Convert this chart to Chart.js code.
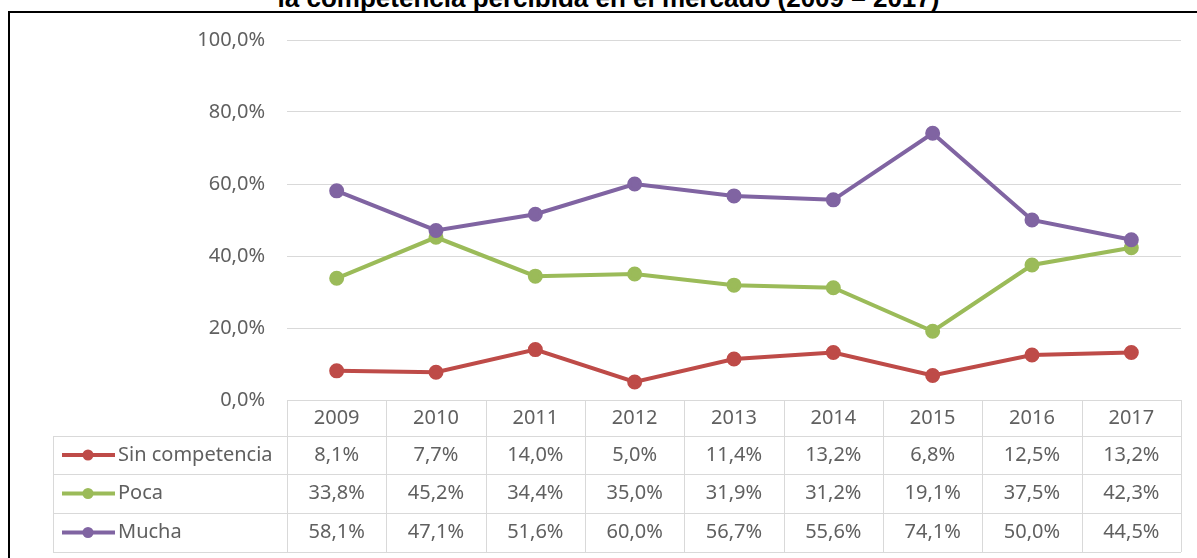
<!DOCTYPE html>
<html lang="es">
<head>
<meta charset="UTF-8">
<title>Competencia percibida</title>
<script src="https://cdn.jsdelivr.net/npm/chart.js@4.4.1/dist/chart.umd.min.js"></script>
<style>
  html, body { margin: 0; padding: 0; background: #fff; overflow: hidden; }
  #frame { position: absolute; left: 8px; top: 11px; width: 1300px; height: 700px;
           border-top: 2px solid #000; border-left: 2px solid #000; }
  #title { position: absolute; left: 0; top: -15px; width: 1217px; text-align: center;
           font: bold 26px "Liberation Sans", Arial, sans-serif; line-height: 26px; color: #000; }
  #wrap { position: absolute; left: 0; top: 0; width: 1197px; height: 558px; }
</style>
</head>
<body>
<div id="frame"></div>
<div id="title">la competencia percibida en el mercado (2009 – 2017)</div>
<div id="wrap"><canvas id="chart" width="1197" height="558"></canvas></div>
<script>
const years = ['2009', '2010', '2011', '2012', '2013', '2014', '2015', '2016', '2017'];
const sinCompetencia = [8.1, 7.7, 14.0, 5.0, 11.4, 13.2, 6.8, 12.5, 13.2];
const poca = [33.8, 45.2, 34.4, 35.0, 31.9, 31.2, 19.1, 37.5, 42.3];
const mucha = [58.1, 47.1, 51.6, 60.0, 56.7, 55.6, 74.1, 50.0, 44.5];
const seriesNames = ['Sin competencia', 'Poca', 'Mucha'];
const seriesColors = ['#be4b48', '#9bbb59', '#8064a2'];

const fontFamily = '"Noto Sans", "Open Sans", sans-serif';
const textColor = '#606060';
const gridColor = '#d9d9d9';

function pct(v) {
  return v.toFixed(1).replace('.', ',') + '%';
}

// data table under the plot, using the x scale for the columns
const dataTable = {
  id: 'dataTable',
  afterDraw(chart) {
    const ctx = chart.ctx;
    const x = chart.scales.x;
    const area = chart.chartArea;
    const n = years.length;
    const colW = (area.right - area.left) / n;
    const legendLeft = 53;
    const rows = [area.bottom, 436, 474, 513, 552];

    ctx.save();
    ctx.strokeStyle = gridColor;
    ctx.lineWidth = 1;
    ctx.beginPath();
    // horizontal lines
    ctx.moveTo(area.left, rows[0] + 0.5); ctx.lineTo(area.right, rows[0] + 0.5);
    for (let r = 1; r < rows.length; r++) {
      ctx.moveTo(legendLeft, rows[r] + 0.5); ctx.lineTo(area.right, rows[r] + 0.5);
    }
    // vertical lines
    for (let i = 0; i <= n; i++) {
      const px = Math.round(area.left + i * colW) + 0.5;
      ctx.moveTo(px, rows[0]); ctx.lineTo(px, rows[4]);
    }
    ctx.moveTo(legendLeft + 0.5, rows[1]); ctx.lineTo(legendLeft + 0.5, rows[4]);
    ctx.stroke();

    ctx.fillStyle = textColor;
    ctx.font = '20px ' + fontFamily;
    ctx.textAlign = 'center';
    ctx.textBaseline = 'middle';
    years.forEach((y, i) => {
      ctx.fillText(y, x.getPixelForValue(i), (rows[0] + rows[1]) / 2);
    });

    chart.data.datasets.forEach((ds, r) => {
      const cy = (rows[r + 1] + rows[r + 2]) / 2;
      ds.data.forEach((v, i) => {
        ctx.fillStyle = textColor;
        ctx.textAlign = 'center';
        ctx.fillText(pct(v), x.getPixelForValue(i), cy);
      });
      // legend key
      ctx.strokeStyle = ds.borderColor;
      ctx.lineWidth = 4;
      ctx.beginPath();
      ctx.moveTo(62, cy); ctx.lineTo(115, cy);
      ctx.stroke();
      ctx.fillStyle = ds.borderColor;
      ctx.beginPath();
      ctx.arc(88, cy, 5.5, 0, Math.PI * 2);
      ctx.fill();
      ctx.fillStyle = textColor;
      ctx.textAlign = 'left';
      ctx.fillText(ds.label, 118, cy);
    });
    ctx.restore();
  }
};

function series(i, values, order) {
  return {
    label: seriesNames[i],
    data: values,
    borderColor: seriesColors[i],
    backgroundColor: seriesColors[i],
    borderWidth: 4,
    pointRadius: 5.5,
    pointHoverRadius: 5.5,
    tension: 0,
    order: order
  };
}

new Chart('chart', {
  type: 'line',
  data: {
    labels: years,
    datasets: [
      series(0, sinCompetencia, 2),
      series(1, poca, 1),
      series(2, mucha, 0)
    ]
  },
  options: {
    responsive: false,
    animation: false,
    layout: { padding: { left: 0, top: 40, right: 16, bottom: 158 } },
    plugins: {
      legend: { display: false },
      tooltip: { enabled: false }
    },
    scales: {
      x: {
        display: false,
        offset: true
      },
      y: {
        min: 0,
        max: 100,
        ticks: {
          stepSize: 20,
          padding: 22,
          color: textColor,
          font: { family: fontFamily, size: 20 },
          callback: v => pct(v)
        },
        grid: { color: gridColor, drawTicks: false },
        border: { display: false },
        afterFit(scale) { scale.width = 287; }
      }
    }
  },
  plugins: [dataTable]
});
</script>
</body>
</html>
